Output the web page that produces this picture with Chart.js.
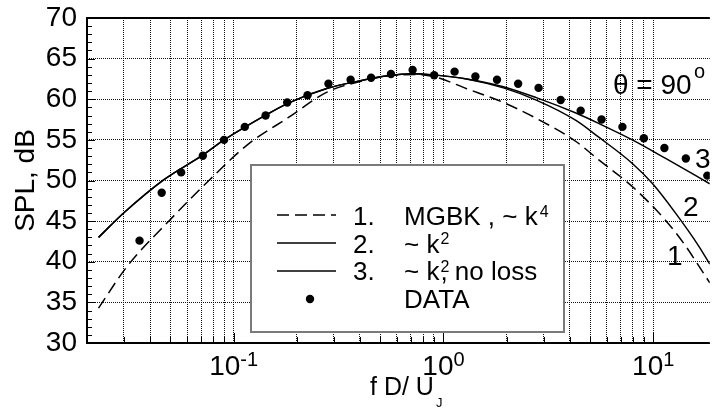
<!DOCTYPE html>
<html>
<head>
<meta charset="utf-8">
<script src="https://cdn.jsdelivr.net/npm/chart.js@4.4.1/dist/chart.umd.min.js"></script>
<style>
  html, body { margin: 0; padding: 0; background: #fff; }
  #box { width: 714px; height: 408px; }
</style>
</head>
<body>
<div id="box"><canvas id="chart" width="714" height="408"></canvas></div>
<script>
var dataF   = [0.0356, 0.0454, 0.0562, 0.0713, 0.0900, 0.113, 0.142, 0.180, 0.225, 0.283, 0.361, 0.452, 0.562, 0.713, 0.903, 1.13, 1.42, 1.80, 2.27, 2.84, 3.62, 4.51, 5.67, 7.13, 9.02, 11.3, 14.3, 18.1];
var dataSPL = [42.6, 48.5, 51.0, 53.05, 55.0, 56.6, 58.0, 59.6, 60.5, 61.9, 62.4, 62.65, 63.1, 63.6, 62.95, 63.4, 62.8, 62.4, 61.9, 61.4, 59.9, 58.6, 57.5, 56.6, 55.2, 54.0, 52.7, 50.6];

// 1. MGBK, ~k^4 (dashed)
var c1F   = [0.0227, 0.031, 0.0497, 0.0769, 0.117, 0.181, 0.28, 0.388, 0.538, 0.721, 0.897, 1.29, 1.93, 2.77, 4.28, 5.52, 7.95, 11.4, 14.3, 16.0, 18.6];
var c1SPL = [34.3, 39.4, 45.15, 50.1, 54.45, 57.7, 60.9, 62.1, 62.85, 63.05, 62.8, 61.3, 59.6, 57.65, 54.8, 52.5, 49.25, 45.15, 41.9, 40.0, 37.4];

// 2. ~k^2
var c2F   = [0.0227, 0.0299, 0.0462, 0.0715, 0.089, 0.138, 0.181, 0.28, 0.388, 0.538, 0.721, 0.897, 1.29, 1.93, 2.77, 4.28, 5.52, 7.95, 9.89, 12.8, 16.5, 18.6];
var c2SPL = [43.0, 46.0, 50.05, 53.15, 54.9, 57.85, 59.5, 61.35, 62.2, 62.9, 63.15, 63.0, 62.5, 61.4, 59.9, 57.4, 55.3, 52.1, 49.65, 45.95, 41.9, 39.7];

// 3. ~k^2, no loss
var c3F   = [0.0227, 0.0299, 0.0462, 0.0715, 0.089, 0.138, 0.181, 0.28, 0.388, 0.538, 0.721, 0.897, 1.29, 1.93, 2.77, 4.28, 5.52, 7.95, 11.4, 18.6];
var c3SPL = [43.0, 46.0, 50.05, 53.15, 54.9, 57.85, 59.5, 61.35, 62.2, 62.9, 63.15, 63.0, 62.5, 61.55, 60.2, 58.3, 57.0, 55.0, 52.75, 49.6];

// axis ticks
var xMajor = [0.1, 1, 10];
var xMajorExp = ['-1', '0', '1'];
var xDecades = [0.01, 0.1, 1, 10];
var xMin = 0.02, xMax = 18.6;

var FONT = '"Liberation Sans", Arial, Helvetica, sans-serif';

var xTickVals = [];
for (var d = 0; d < xDecades.length; d++) {
    for (var m = 1; m <= 9; m++) {
        var v = +(m * xDecades[d]).toPrecision(3);
        if (v >= xMin && v <= xMax) xTickVals.push(v);
    }
}

function pairs(xs, ys) {
    var out = [];
    for (var i = 0; i < xs.length; i++) out.push({x: xs[i], y: ys[i]});
    return out;
}

function line(c, x1, y1, x2, y2) {
    c.beginPath(); c.moveTo(x1, y1); c.lineTo(x2, y2); c.stroke();
}

function txt(c, s, x, y, size) {
    c.font = size + 'px ' + FONT;
    c.fillText(s, x, y);
    return c.measureText(s).width;
}

var extras = {
    id: 'extras',
    afterDatasetsDraw: function (chart) {
        var c = chart.ctx;
        c.save();
        // legend box
        c.fillStyle = '#fff';
        c.fillRect(251, 165, 313, 167);
        c.strokeStyle = '#7a7a7a';
        c.lineWidth = 2;
        c.strokeRect(251, 165, 313, 167);

        // legend samples
        c.strokeStyle = '#000';
        c.lineWidth = 1.6;
        c.setLineDash([12, 6]);
        line(c, 277, 215, 336, 215);
        c.setLineDash([]);
        line(c, 277, 243, 336, 243);
        line(c, 277, 271, 336, 271);
        c.fillStyle = '#000';
        c.beginPath(); c.arc(310, 299, 4.2, 0, Math.PI * 2); c.fill();

        // legend text
        c.textBaseline = 'alphabetic';
        c.textAlign = 'left';
        txt(c, '1.', 353, 225, 26);
        txt(c, '2.', 353, 253, 26);
        txt(c, '3.', 353, 280, 26);
        var w = txt(c, 'MGBK , ~ k', 404, 225, 26);
        txt(c, '4', 404 + w + 2, 216.5, 16);
        w = txt(c, '~ k', 404, 253, 26);
        txt(c, '2', 404 + w + 1, 243.5, 16);
        w = txt(c, '~ k', 404, 280, 26);
        txt(c, '2', 404 + w + 1, 271.5, 16);
        txt(c, ', no loss', 404 + w + 1, 280, 26);
        txt(c, 'DATA', 404, 308, 26);
        c.restore();
    },
    afterDraw: function (chart) {
        var c = chart.ctx, a = chart.chartArea, xs = chart.scales.x, ys = chart.scales.y;
        c.save();
        c.strokeStyle = '#000';
        c.fillStyle = '#000';

        // minor ticks
        c.lineWidth = 1;
        for (var v = 31; v < 70; v++) {
            var py = Math.round(ys.getPixelForValue(v)) + 0.5;
            line(c, a.left, py, a.left + (v % 5 ? 5 : 8), py);
        }
        for (var i = 0; i < xTickVals.length; i++) {
            var px = Math.round(xs.getPixelForValue(xTickVals[i])) + 0.5;
            var major = xMajor.indexOf(xTickVals[i]) >= 0;
            line(c, px, a.bottom, px, a.bottom - (major ? 10 : 6));
        }

        // frame
        c.lineWidth = 2;
        line(c, a.left, a.top, a.right, a.top);
        line(c, a.left, a.top - 1, a.left, a.bottom + 1);
        line(c, a.left, a.bottom, a.right, a.bottom);

        // x tick labels 10^n
        c.textAlign = 'left';
        c.textBaseline = 'alphabetic';
        for (var k = 0; k < xMajor.length; k++) {
            var cx = xs.getPixelForValue(xMajor[k]);
            c.font = '28px ' + FONT;
            var w1 = c.measureText('10').width;
            c.font = '20px ' + FONT;
            var w2 = c.measureText(xMajorExp[k]).width;
            var x0 = cx - (w1 + w2) / 2;
            txt(c, '10', x0, 375, 28);
            txt(c, xMajorExp[k], x0 + w1, 366, 20);
        }

        // x axis title
        var wt = txt(c, 'f D/ U', 370, 395, 25);
        txt(c, 'J', 370 + wt + 2, 407, 13);

        // y axis title
        c.save();
        c.translate(26, (a.top + a.bottom) / 2);
        c.rotate(-Math.PI / 2);
        c.textAlign = 'center';
        c.textBaseline = 'middle';
        txt(c, 'SPL, dB', 0, 0, 28);
        c.restore();

        // annotations
        c.textAlign = 'left';
        txt(c, '\u03b8 = 90', 613, 94, 28);
        txt(c, 'o', 694, 78, 20);
        txt(c, '3', 695, 168, 28);
        txt(c, '2', 683, 216, 28);
        txt(c, '1', 667, 265, 28);
        c.restore();
    }
};

var dotted = {color: '#111', lineWidth: 1, drawTicks: false};

var el = document.getElementById('chart');
var ctx = el.getContext('2d');
var myChart = new Chart(ctx, {
    type: 'scatter',
    data: {
        datasets: [
            {label: 'DATA', data: pairs(dataF, dataSPL), showLine: false,
             backgroundColor: '#000', borderColor: '#000', pointRadius: 4.2, pointBorderWidth: 0},
            {label: '1', data: pairs(c1F, c1SPL), showLine: true, borderColor: '#000', borderWidth: 1.5,
             borderDash: [12, 6], pointRadius: 0, cubicInterpolationMode: 'monotone'},
            {label: '2', data: pairs(c2F, c2SPL), showLine: true, borderColor: '#000', borderWidth: 1.5,
             pointRadius: 0, cubicInterpolationMode: 'monotone'},
            {label: '3', data: pairs(c3F, c3SPL), showLine: true, borderColor: '#000', borderWidth: 1.5,
             pointRadius: 0, cubicInterpolationMode: 'monotone'}
        ]
    },
    options: {
        responsive: false,
        animation: false,
        devicePixelRatio: 1,
        layout: {padding: {top: 18, right: 0, left: 0, bottom: 0}},
        plugins: {legend: {display: false}, tooltip: {enabled: false}},
        scales: {
            x: {
                type: 'logarithmic', min: xMin, max: xMax,
                afterBuildTicks: function (s) { s.ticks = xTickVals.map(function (v) { return {value: v}; }); },
                afterFit: function (s) { s.height = 65; s.paddingLeft = 0; s.paddingRight = 0; },
                ticks: {display: false, autoSkip: false},
                grid: dotted,
                border: {display: false, dash: [1, 1]}
            },
            y: {
                min: 30, max: 70,
                afterFit: function (s) { s.width = 87; s.paddingTop = 0; s.paddingBottom = 0; },
                ticks: {stepSize: 5, color: '#000', padding: 10, font: {family: FONT, size: 28}},
                grid: dotted,
                border: {display: false, dash: [1, 1]}
            }
        }
    },
    plugins: [extras]
});
</script>
</body>
</html>
